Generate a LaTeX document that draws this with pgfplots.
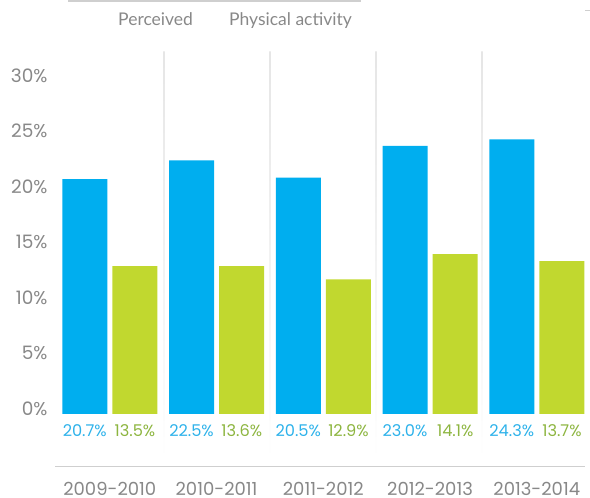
\documentclass[border=0pt]{standalone}
\usepackage{pgfplots}
\pgfplotsset{compat=1.18}
\usepackage{fontspec}
\setmainfont{Poppins}
\newfontfamily\lato{Lato}

\definecolor{barblue}{HTML}{00AEEF}
\definecolor{bargreen}{HTML}{C1D82F}
\definecolor{txtblue}{HTML}{2EB2EA}
\definecolor{txtgreen}{HTML}{8DB540}
\definecolor{labgray}{HTML}{888888}
\definecolor{rulegray}{HTML}{CFCFCF}

\begin{document}
\begin{tikzpicture}[x=1bp,y=1bp,
  bluelab/.style={text=txtblue, font=\fontsize{16.2bp}{18bp}\selectfont, inner sep=0, xshift=-25bp},
  greenlab/.style={text=txtgreen, font=\fontsize{16.2bp}{18bp}\selectfont, inner sep=0, xshift=25.2bp},
]
\useasboundingbox (0,0) rectangle (590,498);

% header remnants
\draw[rulegray, line width=1.2bp] (68,497) -- (361,497);
\node[anchor=base west, inner sep=0, text=labgray, font=\lato\fontsize{17.5bp}{19bp}\selectfont] at (118,472) {Perceived};
\node[anchor=base west, inner sep=0, text=labgray, font=\lato\fontsize{17.5bp}{19bp}\selectfont] at (229,472) {Physical activity};
\draw[rulegray, line width=1bp] (585,487.5) -- (590,487.5);

% group separators
\foreach \sx in {164,270,376,482} {
  \shade[top color=gray!20, middle color=gray!65, bottom color=white] (\sx-0.7,38) rectangle (\sx+0.7,446);
}

% baseline under value labels
\draw[rulegray, line width=1.3bp] (55,31.3) -- (585,31.3);

\begin{axis}[
  at={(56.4bp,84bp)}, anchor=south west,
  scale only axis, width=533.75bp, height=366.1bp,
  xmin=-0.5, xmax=4.5, ymin=0, ymax=33,
  clip=false,
  axis line style={draw=none},
  tick style={draw=none},
  ybar, bar width=45bp,
  xtick={0,1,2,3,4},
  xticklabels={2009-2010,2010-2011,2011-2012,2012-2013,2013-2014},
  x tick label style={anchor=center, inner sep=0pt, yshift=-71bp, text=labgray, font=\fontsize{18bp}{19bp}\selectfont},
  ytick={0,5,10,15,20,25,30},
  yticklabels={0\%,5\%,10\%,15\%,20\%,25\%,30\%},
  y tick label style={anchor=east, inner sep=0pt, xshift=-8.7bp, yshift=5.5bp, text=labgray, font=\fontsize{18.5bp}{19bp}\selectfont},
]
\addplot[fill=barblue, draw=none, bar shift=-25bp] coordinates {
  (0,21.16) (1,22.87) (2,21.30) (3,24.16) (4,24.76)
};
\addplot[fill=bargreen, draw=none, bar shift=25.2bp] coordinates {
  (0,13.34) (1,13.34) (2,12.14) (3,14.42) (4,13.79)
};

\node[bluelab] at (axis cs:0,-1.53) {20.7\%};
\node[greenlab] at (axis cs:0,-1.53) {13.5\%};
\node[bluelab] at (axis cs:1,-1.53) {22.5\%};
\node[greenlab] at (axis cs:1,-1.53) {13.6\%};
\node[bluelab] at (axis cs:2,-1.53) {20.5\%};
\node[greenlab] at (axis cs:2,-1.53) {12.9\%};
\node[bluelab] at (axis cs:3,-1.53) {23.0\%};
\node[greenlab] at (axis cs:3,-1.53) {14.1\%};
\node[bluelab] at (axis cs:4,-1.53) {24.3\%};
\node[greenlab] at (axis cs:4,-1.53) {13.7\%};
\end{axis}
\end{tikzpicture}
\end{document}
